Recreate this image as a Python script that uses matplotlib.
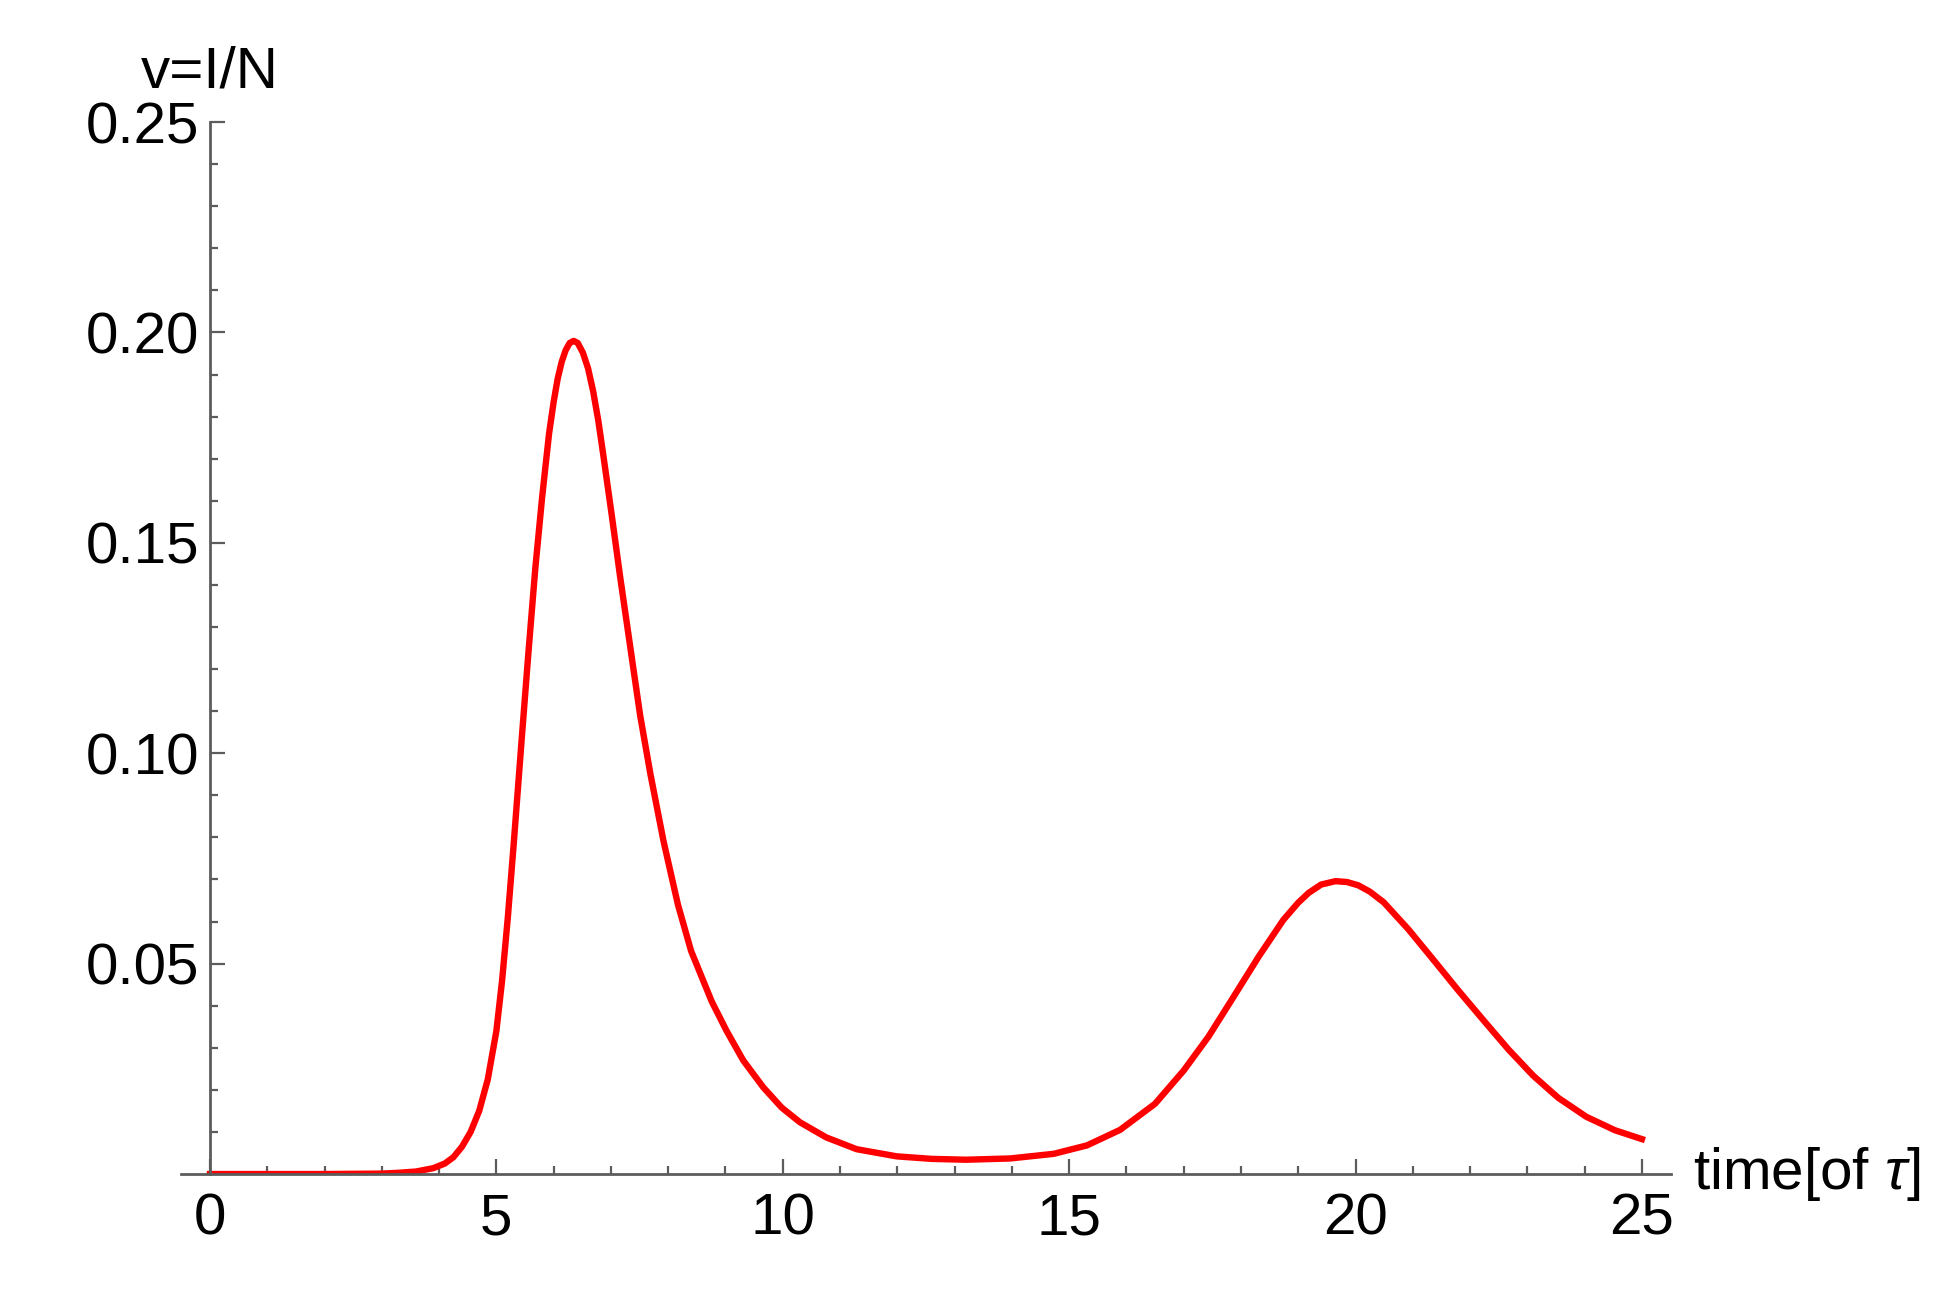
"""Two-wave infected fraction v = I/N over time."""
import matplotlib

matplotlib.use("Agg")
import matplotlib.pyplot as plt
from matplotlib.ticker import FixedLocator, FormatStrFormatter

plt.rcParams["font.family"] = ["Liberation Sans", "DejaVu Sans"]
plt.rcParams["mathtext.fontset"] = "custom"
plt.rcParams["mathtext.it"] = "Liberation Sans:italic"
plt.rcParams["mathtext.rm"] = "Liberation Sans"

# values
time = [0, 1, 2, 3, 3.3, 3.6, 3.9, 4.1, 4.25, 4.4, 4.55, 4.7, 4.85, 5.0, 5.1,
        5.2, 5.3, 5.44, 5.56, 5.68, 5.8, 5.92, 6.0, 6.07, 6.14, 6.21, 6.28,
        6.35, 6.42, 6.51, 6.6, 6.69, 6.78, 6.86, 7.01, 7.16, 7.34, 7.51, 7.69,
        7.92, 8.17, 8.4, 8.76, 9.02, 9.31, 9.66, 9.98, 10.3, 10.76, 11.29,
        11.99, 12.6, 13.2, 13.97, 14.73, 15.31, 15.89, 16.5, 17.0, 17.43, 17.87,
        18.31, 18.74, 19.0, 19.18, 19.4, 19.65, 19.85, 20.05, 20.25, 20.49,
        20.92, 21.36, 21.79, 22.23, 22.67, 23.1, 23.54, 24.03, 24.53, 25.0]
v_frac = [0.0, 0.0, 0.0, 0.0001, 0.0003, 0.0006, 0.0014, 0.0025, 0.004, 0.0065,
          0.010, 0.015, 0.0225, 0.034, 0.046, 0.061, 0.078, 0.103, 0.124, 0.144,
          0.161, 0.176, 0.1835, 0.189, 0.193, 0.1958, 0.1975, 0.198, 0.1975,
          0.1952, 0.1915, 0.186, 0.179, 0.1715, 0.157, 0.142, 0.125, 0.109,
          0.095, 0.079, 0.064, 0.053, 0.041, 0.034, 0.027, 0.0206, 0.0158,
          0.0123, 0.0087, 0.0059, 0.0042, 0.0036, 0.0034, 0.0037, 0.0048, 0.0068,
          0.0105, 0.0167, 0.0246, 0.0326, 0.0421, 0.0517, 0.0604, 0.0645, 0.0668,
          0.0688, 0.0696, 0.0694, 0.0686, 0.0671, 0.0646, 0.0582, 0.0509, 0.0437,
          0.0366, 0.0296, 0.0234, 0.0181, 0.0136, 0.0104, 0.0083]

x_major = [0, 5, 10, 15, 20, 25]
x_minor = [t for t in range(1, 25) if t % 5]
y_major = [0.05, 0.10, 0.15, 0.20, 0.25]
y_minor = [i / 100 for i in range(1, 25) if i % 5]

AXIS_GREY = "#5c5c5c"
FS = 42

fig = plt.figure(figsize=(19.5, 13), dpi=100)
ax = fig.add_axes([0.0930, 0.0969, 0.7637, 0.8092])

ax.plot(time, v_frac, color="#ff0000", lw=4.6, solid_joinstyle="round")

ax.set_xlim(-0.5, 25.5)
ax.set_ylim(0, 0.25)

for side in ("top", "right"):
    ax.spines[side].set_visible(False)
ax.spines["left"].set_position(("data", 0))
for side in ("left", "bottom"):
    ax.spines[side].set_color(AXIS_GREY)
    ax.spines[side].set_linewidth(2)

ax.xaxis.set_major_locator(FixedLocator(x_major))
ax.xaxis.set_minor_locator(FixedLocator(x_minor))
ax.yaxis.set_major_locator(FixedLocator(y_major))
ax.yaxis.set_minor_locator(FixedLocator(y_minor))
ax.yaxis.set_major_formatter(FormatStrFormatter("%.2f"))

ax.tick_params(which="both", direction="in", color=AXIS_GREY, width=1.6,
               labelsize=FS, labelcolor="black")
ax.tick_params(which="major", length=11)
ax.tick_params(which="minor", length=6)
ax.tick_params(axis="x", which="major", pad=13)
ax.tick_params(axis="y", which="major", pad=8)

ax.text(0, 0.2583, "v=I/N", ha="center", va="baseline", fontsize=FS)
ax.text(25.9, 0, "time[of $\\it{\\tau}$]", ha="left", va="center", fontsize=FS)

fig.savefig("out.png", dpi=100, facecolor="white")
plt.close(fig)
